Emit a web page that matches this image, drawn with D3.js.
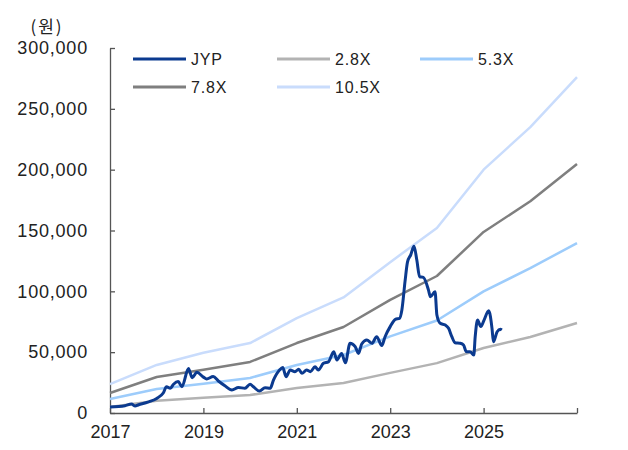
<!DOCTYPE html>
<html>
<head>
<meta charset="utf-8">
<script src="https://cdn.jsdelivr.net/npm/d3@7"></script>
<style>
	body { margin: 0; background: #fff; }
	svg text { font-family: "Liberation Sans", Arial, sans-serif; fill: #222; }
</style>
</head>
<body>
<script>
// band years (year-end points) and band values in won
let bandYears = [2017, 2018, 2019, 2020, 2021, 2022, 2023, 2024, 2025, 2026, 2027];
let band28 = [5000, 10000, 12500, 14800, 20500, 24600, 33000, 41000, 53400, 62500, 74000];
let band53 = [11500, 19700, 24000, 28800, 39500, 47700, 63000, 76000, 100000, 119000, 139700];
let band78 = [16400, 29600, 35500, 42000, 57500, 70700, 93000, 112600, 148800, 174000, 204700];
let band105 = [23800, 39500, 49500, 57500, 78000, 95000, 124000, 152000, 200000, 235000, 276000];

// JYP share price (decimal year, won)
let jypDates = [2017.00, 2017.32, 2017.46, 2017.54, 2017.60, 2017.81, 2018.00, 2018.14, 2018.21, 2018.29,
	2018.36, 2018.46, 2018.54, 2018.68, 2018.76, 2018.86, 2019.00, 2019.07, 2019.21, 2019.32,
	2019.46, 2019.61, 2019.75, 2019.89, 2020.00, 2020.07, 2020.20, 2020.32, 2020.43, 2020.50,
	2020.63, 2020.70, 2020.77, 2020.86, 2020.96, 2021.04, 2021.11, 2021.21, 2021.29, 2021.39,
	2021.46, 2021.57, 2021.68, 2021.79, 2021.86, 2021.96, 2022.04, 2022.14, 2022.25, 2022.32,
	2022.39, 2022.50, 2022.61, 2022.71, 2022.82, 2022.89, 2023.00, 2023.11, 2023.20, 2023.25,
	2023.32, 2023.37, 2023.44, 2023.51, 2023.57, 2023.63, 2023.71, 2023.82, 2023.86, 2023.96,
	2024.00, 2024.07, 2024.18, 2024.25, 2024.32, 2024.39, 2024.50, 2024.57, 2024.63, 2024.71,
	2024.79, 2024.82, 2024.87, 2024.94, 2025.01, 2025.11, 2025.18, 2025.21, 2025.29, 2025.36, 2025.39];
let jypPrice = [4900, 6000, 7400, 5700, 6600, 9000, 12000, 16400, 21600, 20300,
	23600, 25800, 21600, 36500, 29000, 33400, 29500, 28000, 30000, 26300,
	22400, 18900, 21000, 20300, 23600, 21600, 18000, 20800, 20300, 27000,
	35300, 37300, 29800, 35300, 34000, 35900, 32600, 35300, 34000, 38000,
	35300, 40800, 42200, 50400, 43600, 49000, 41300, 57300, 54500, 49000,
	56700, 60000, 57300, 62700, 55500, 62700, 71000, 77000, 77800, 84700,
	109000, 124000, 130000, 137000, 125700, 112000, 111500, 101000, 95600, 99700,
	80500, 73700, 72300, 69600, 62700, 57800, 57300, 55900, 50400, 50400,
	47700, 62700, 76400, 71000, 76400, 84000, 69600, 58600, 66800, 68800, 68200];

let yTicks = [0, 50000, 100000, 150000, 200000, 250000, 300000];
let xTicks = [2017, 2019, 2021, 2023, 2025, 2027];
let xLabels = ["2017", "2019", "2021", "2023", "2025", ""];

let series = [
	{name: "JYP", color: "#0b3a8f", width: 3},
	{name: "2.8X", color: "#b3b3b3", width: 2.5, values: band28},
	{name: "5.3X", color: "#9dccfb", width: 2.5, values: band53},
	{name: "7.8X", color: "#7f7f7f", width: 2.5, values: band78},
	{name: "10.5X", color: "#c9dcfc", width: 2.5, values: band105}
];

let width = 628, height = 450;
let margin = {left: 110, right: 51, top: 48, bottom: 37};

let svg = d3.select("body").append("svg").attr("width", width).attr("height", height);

let x = d3.scaleLinear().domain([2017, 2027]).range([margin.left, width - margin.right]);
let y = d3.scaleLinear().domain([0, 300000]).range([height - margin.bottom, margin.top]);

// y axis
let yAxis = svg.append("g")
	.attr("transform", `translate(${margin.left},0)`)
	.call(d3.axisLeft(y).tickValues(yTicks).tickSizeInner(-5).tickSizeOuter(0)
		.tickPadding(22).tickFormat(d3.format(",")));
yAxis.selectAll("text").style("font-size", "18px").style("letter-spacing", "0.8px");

// x axis
let xAxis = svg.append("g")
	.attr("transform", `translate(0,${height - margin.bottom})`)
	.call(d3.axisBottom(x).tickValues(xTicks).tickSizeInner(-5).tickSizeOuter(0)
		.tickPadding(12).tickFormat((d, i) => xLabels[i]));
xAxis.selectAll("text").style("font-size", "18px");

svg.selectAll(".domain, .tick line").attr("stroke", "#555").attr("stroke-width", 1.3);

svg.append("text").attr("x", 47).attr("y", 33).attr("text-anchor", "middle")
	.style("font-family", "'Noto Sans CJK KR', sans-serif").style("font-size", "17px")
	.style("letter-spacing", "2px")
	.text("(원)");

// bands
let line = d3.line().x(d => x(d[0])).y(d => y(d[1]));
series.slice(1).forEach(s => {
	svg.append("path")
		.datum(bandYears.map((yr, i) => [yr, s.values[i]]))
		.attr("fill", "none").attr("stroke", s.color).attr("stroke-width", s.width)
		.attr("stroke-linejoin", "round").attr("d", line);
});

// JYP
svg.append("path")
	.datum(jypDates.map((d, i) => [d, jypPrice[i]]))
	.attr("fill", "none").attr("stroke", series[0].color).attr("stroke-width", series[0].width)
	.attr("stroke-linejoin", "round")
	.attr("d", line.curve(d3.curveMonotoneX));

// legend
let legendPos = [[133, 59], [277, 59], [420, 59], [133, 87], [277, 87]];
series.forEach((s, i) => {
	let g = svg.append("g").attr("transform", `translate(${legendPos[i][0]},${legendPos[i][1]})`);
	g.append("line").attr("x1", 0).attr("x2", 53).attr("stroke", s.color).attr("stroke-width", 3);
	g.append("text").attr("x", 58).attr("dy", "0.36em").style("font-size", "16px")
		.style("letter-spacing", "0.8px").text(s.name);
});
</script>
</body>
</html>
